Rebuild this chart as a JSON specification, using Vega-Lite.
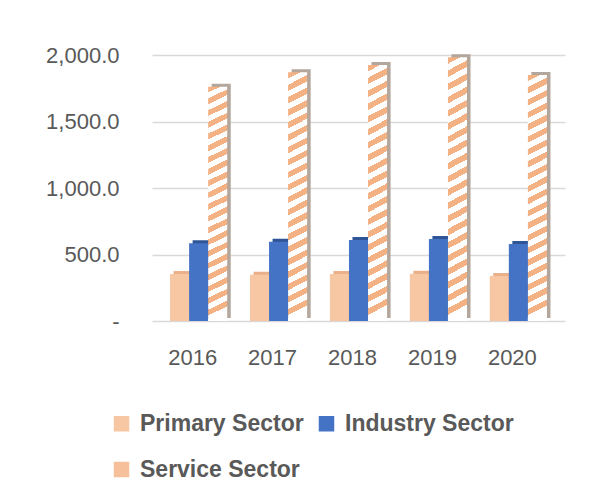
{
  "$schema": "https://vega.github.io/schema/vega-lite/v6.json",
  "autosize": {"type": "none"},
  "width": 413,
  "height": 266,
  "padding": {"left": 152, "top": 55, "right": 35, "bottom": 182},
  "background": "white",
  "config": {
    "view": {"stroke": null},
    "font": "Liberation Sans"
  },
  "data": {
    "values": [
      {"year": "2016", "sector": "Primary Sector", "value": 353},
      {"year": "2016", "sector": "Industry Sector", "value": 584},
      {"year": "2016", "sector": "Service Sector", "value": 1762},
      {"year": "2017", "sector": "Primary Sector", "value": 348},
      {"year": "2017", "sector": "Industry Sector", "value": 596},
      {"year": "2017", "sector": "Service Sector", "value": 1870},
      {"year": "2018", "sector": "Primary Sector", "value": 353},
      {"year": "2018", "sector": "Industry Sector", "value": 609},
      {"year": "2018", "sector": "Service Sector", "value": 1925},
      {"year": "2019", "sector": "Primary Sector", "value": 355},
      {"year": "2019", "sector": "Industry Sector", "value": 617},
      {"year": "2019", "sector": "Service Sector", "value": 1983},
      {"year": "2020", "sector": "Primary Sector", "value": 338},
      {"year": "2020", "sector": "Industry Sector", "value": 579},
      {"year": "2020", "sector": "Service Sector", "value": 1850}
    ]
  },
  "encoding": {
    "x": {
      "field": "year", "type": "nominal",
      "scale": {"paddingInner": 0.285, "paddingOuter": 0.226},
      "axis": {
        "title": null, "labelAngle": 0, "domain": false, "ticks": false,
        "labelFontSize": 22, "labelColor": "#595959", "labelPadding": 26, "labelOffset": -6
      }
    },
    "y": {
      "field": "value", "type": "quantitative",
      "scale": {"domain": [0, 2000], "nice": false},
      "axis": {
        "title": null, "domain": false, "ticks": false, "values": [0, 500, 1000, 1500, 2000],
        "labelExpr": "datum.value === 0 ? '-' : format(datum.value, ',.1f')",
        "labelFontSize": 22, "labelColor": "#595959", "labelPadding": 33,
        "gridColor": "#d9d9d9", "gridWidth": 1.5
      }
    }
  },
  "resolve": {"scale": {"xOffset": "independent"}},
  "layer": [
    {
      "mark": {"type": "bar", "yOffset": -3},
      "encoding": {
        "xOffset": {"field": "sector", "type": "nominal", "sort": ["Primary Sector", "Industry Sector", "Service Sector"], "scale": {"paddingInner": 0, "paddingOuter": 0, "range": [3.5, 60.67]}},
        "color": {
          "condition": [
            {"test": "datum.sector === 'Industry Sector'", "value": "#2f5597"},
            {"test": "datum.sector === 'Primary Sector'", "value": "#e9b08a"}
          ],
          "value": "#b3a69c"
        }
      }
    },
    {
      "mark": {"type": "bar"},
      "encoding": {
        "xOffset": {"field": "sector", "type": "nominal", "sort": ["Primary Sector", "Industry Sector", "Service Sector"], "scale": {"paddingInner": 0, "paddingOuter": 0}},
        "color": {
          "condition": {
            "test": "datum.sector === 'Service Sector'",
            "value": {"gradient": "linear", "x1": 0, "y1": 0, "x2": 0.039, "y2": 1, "stops": [
                {"offset": 0, "color": "#f4b183"}, {"offset": 0.025, "color": "#f4b183"}, {"offset": 0.025, "color": "#ffffff"}, {"offset": 0.05, "color": "#ffffff"},
                {"offset": 0.05, "color": "#f4b183"}, {"offset": 0.075, "color": "#f4b183"}, {"offset": 0.075, "color": "#ffffff"}, {"offset": 0.1, "color": "#ffffff"},
                {"offset": 0.1, "color": "#f4b183"}, {"offset": 0.125, "color": "#f4b183"}, {"offset": 0.125, "color": "#ffffff"}, {"offset": 0.15, "color": "#ffffff"},
                {"offset": 0.15, "color": "#f4b183"}, {"offset": 0.175, "color": "#f4b183"}, {"offset": 0.175, "color": "#ffffff"}, {"offset": 0.2, "color": "#ffffff"},
                {"offset": 0.2, "color": "#f4b183"}, {"offset": 0.225, "color": "#f4b183"}, {"offset": 0.225, "color": "#ffffff"}, {"offset": 0.25, "color": "#ffffff"},
                {"offset": 0.25, "color": "#f4b183"}, {"offset": 0.275, "color": "#f4b183"}, {"offset": 0.275, "color": "#ffffff"}, {"offset": 0.3, "color": "#ffffff"},
                {"offset": 0.3, "color": "#f4b183"}, {"offset": 0.325, "color": "#f4b183"}, {"offset": 0.325, "color": "#ffffff"}, {"offset": 0.35, "color": "#ffffff"},
                {"offset": 0.35, "color": "#f4b183"}, {"offset": 0.375, "color": "#f4b183"}, {"offset": 0.375, "color": "#ffffff"}, {"offset": 0.4, "color": "#ffffff"},
                {"offset": 0.4, "color": "#f4b183"}, {"offset": 0.425, "color": "#f4b183"}, {"offset": 0.425, "color": "#ffffff"}, {"offset": 0.45, "color": "#ffffff"},
                {"offset": 0.45, "color": "#f4b183"}, {"offset": 0.475, "color": "#f4b183"}, {"offset": 0.475, "color": "#ffffff"}, {"offset": 0.5, "color": "#ffffff"},
                {"offset": 0.5, "color": "#f4b183"}, {"offset": 0.525, "color": "#f4b183"}, {"offset": 0.525, "color": "#ffffff"}, {"offset": 0.55, "color": "#ffffff"},
                {"offset": 0.55, "color": "#f4b183"}, {"offset": 0.575, "color": "#f4b183"}, {"offset": 0.575, "color": "#ffffff"}, {"offset": 0.6, "color": "#ffffff"},
                {"offset": 0.6, "color": "#f4b183"}, {"offset": 0.625, "color": "#f4b183"}, {"offset": 0.625, "color": "#ffffff"}, {"offset": 0.65, "color": "#ffffff"},
                {"offset": 0.65, "color": "#f4b183"}, {"offset": 0.675, "color": "#f4b183"}, {"offset": 0.675, "color": "#ffffff"}, {"offset": 0.7, "color": "#ffffff"},
                {"offset": 0.7, "color": "#f4b183"}, {"offset": 0.725, "color": "#f4b183"}, {"offset": 0.725, "color": "#ffffff"}, {"offset": 0.75, "color": "#ffffff"},
                {"offset": 0.75, "color": "#f4b183"}, {"offset": 0.775, "color": "#f4b183"}, {"offset": 0.775, "color": "#ffffff"}, {"offset": 0.8, "color": "#ffffff"},
                {"offset": 0.8, "color": "#f4b183"}, {"offset": 0.825, "color": "#f4b183"}, {"offset": 0.825, "color": "#ffffff"}, {"offset": 0.85, "color": "#ffffff"},
                {"offset": 0.85, "color": "#f4b183"}, {"offset": 0.875, "color": "#f4b183"}, {"offset": 0.875, "color": "#ffffff"}, {"offset": 0.9, "color": "#ffffff"},
                {"offset": 0.9, "color": "#f4b183"}, {"offset": 0.925, "color": "#f4b183"}, {"offset": 0.925, "color": "#ffffff"}, {"offset": 0.95, "color": "#ffffff"},
                {"offset": 0.95, "color": "#f4b183"}, {"offset": 0.975, "color": "#f4b183"}, {"offset": 0.975, "color": "#ffffff"}, {"offset": 1, "color": "#ffffff"}
            ]}
          },
          "field": "sector", "type": "nominal",
          "sort": ["Primary Sector", "Industry Sector", "Service Sector"],
          "scale": {
            "domain": ["Primary Sector", "Industry Sector", "Service Sector"],
            "range": ["#f7c6a2", "#4472c4", "#f6c09a"]
          },
          "legend": {
            "title": null, "orient": "none", "legendX": -42, "legendY": 357,
            "direction": "horizontal",
            "columns": 2, "columnPadding": 11, "rowPadding": 22,
            "symbolType": "square", "symbolSize": 240, "symbolStrokeWidth": 0, "symbolOffset": 0,
            "labelFontSize": 23, "labelFontWeight": "bold", "labelColor": "#595959", "labelOffset": 7,
            "labelLimit": 300
          }
        }
      }
    }
  ]
}
